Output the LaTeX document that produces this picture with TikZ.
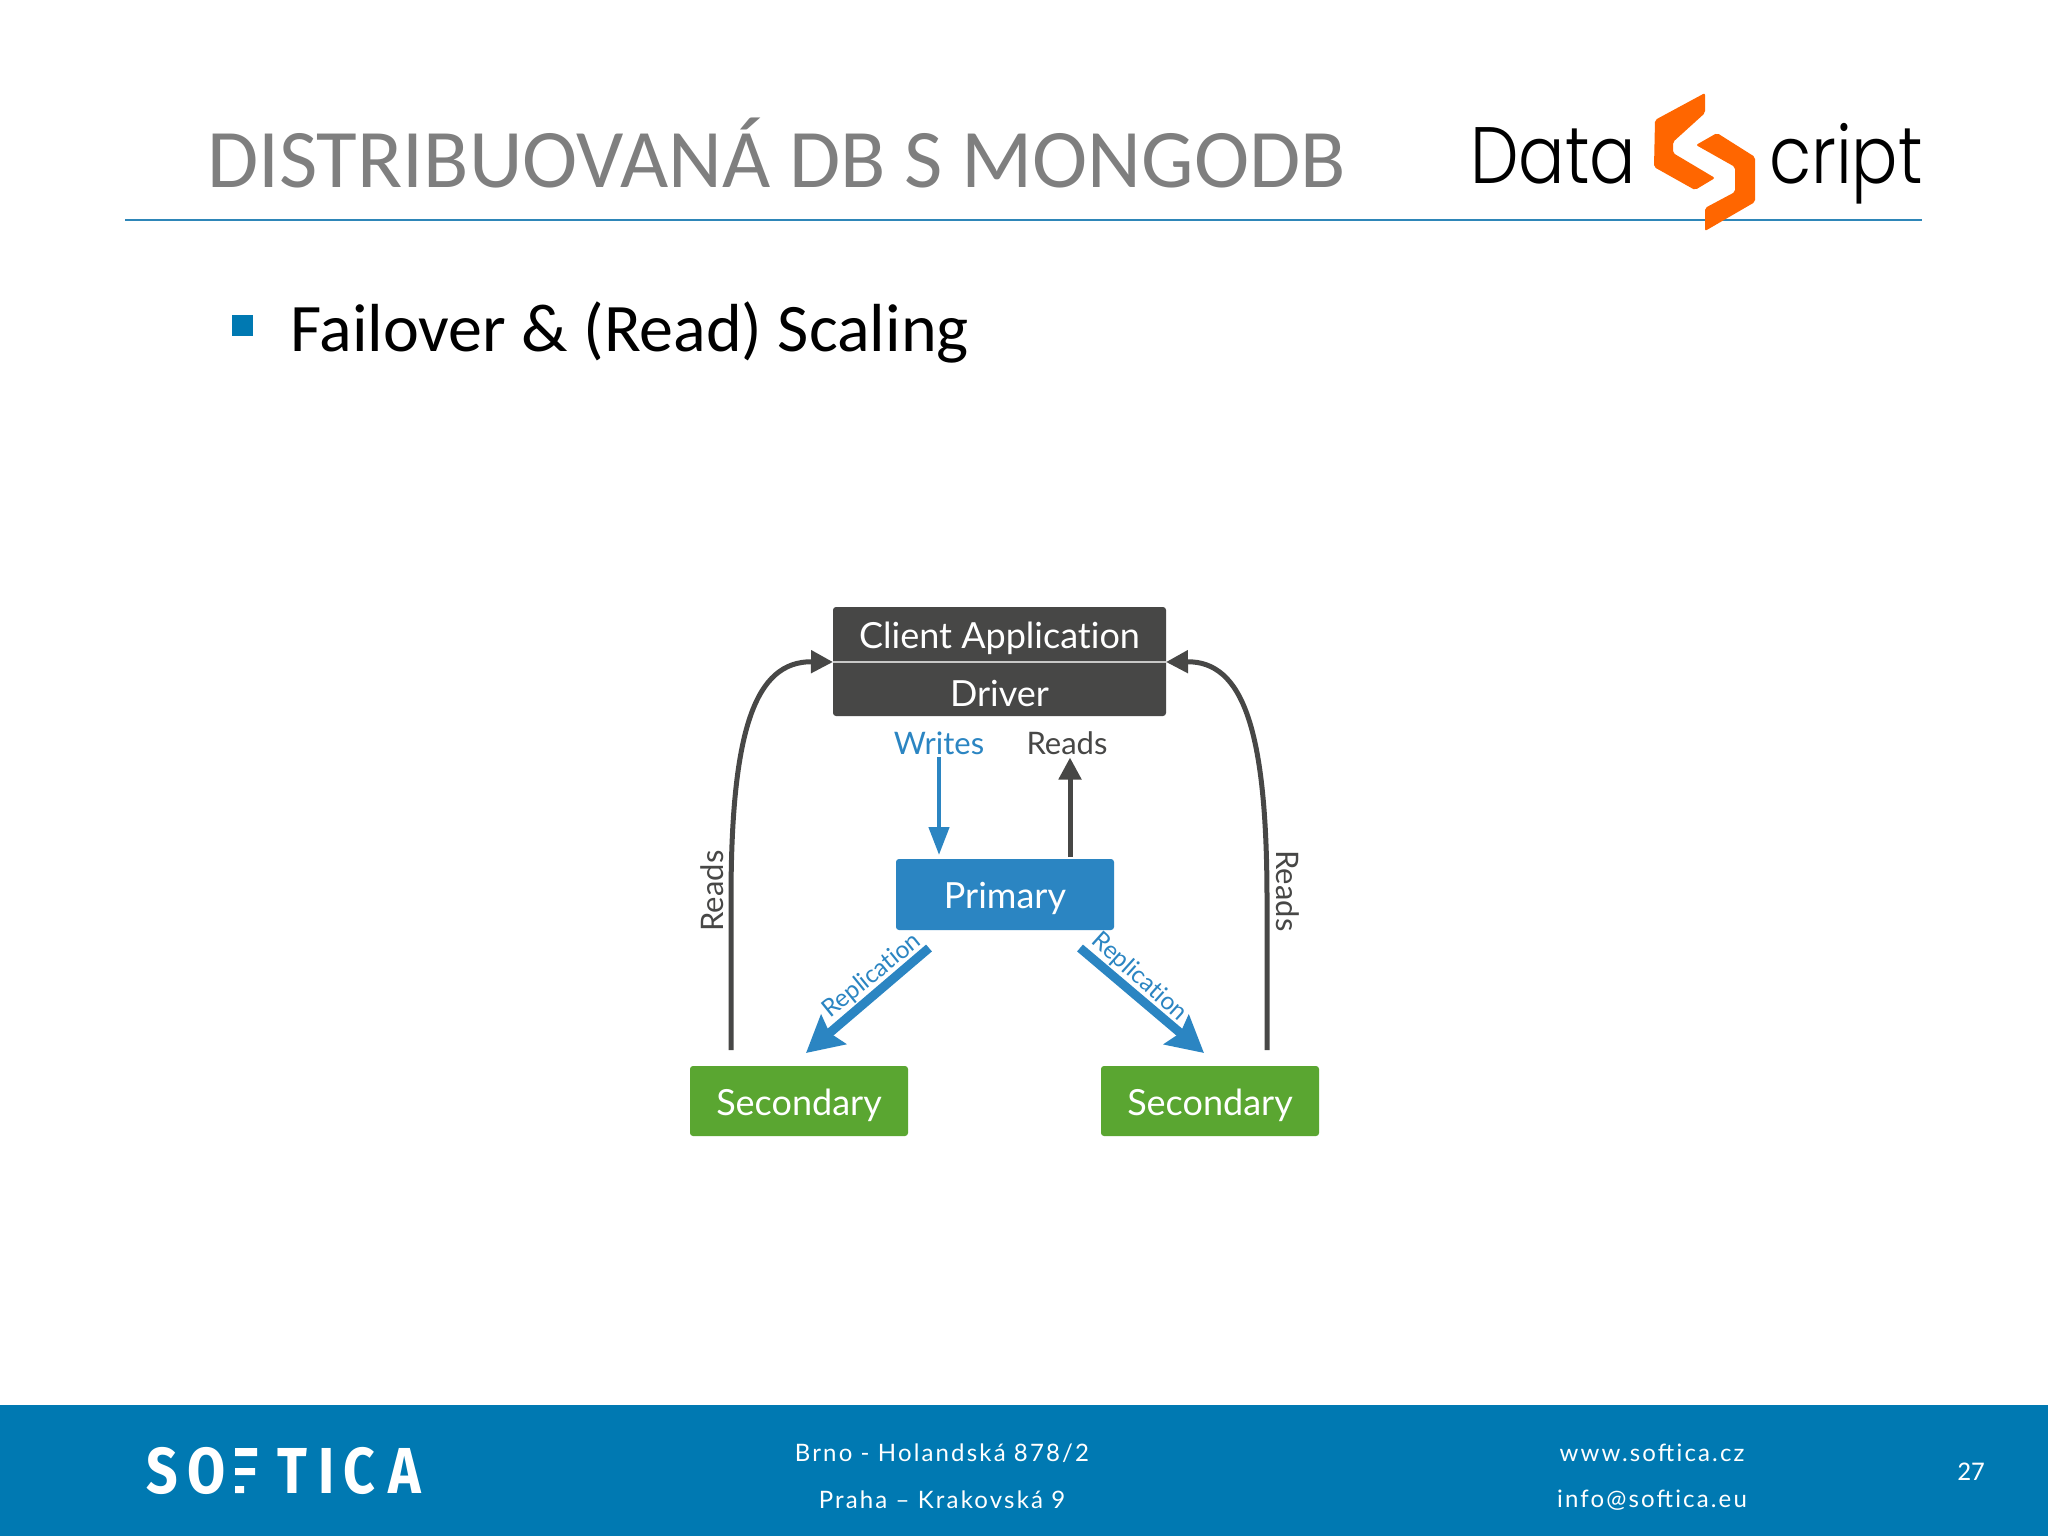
\documentclass[tikz,border=0pt]{standalone}
\usepackage{fontspec}
\usetikzlibrary{arrows.meta}
\setmainfont{Carlito}
\newfontfamily\gillfont[Ligatures=NoCommon]{Lato}
\newfontfamily\logofont[FakeStretch=0.86]{Poppins Light}
\newfontfamily\footfont[LetterSpace=9]{Lato}
\newfontfamily\softfont[FakeStretch=0.85]{Fira Sans Bold}
\newcommand{\fsz}[1]{\fontsize{#1pt}{#1pt}\selectfont}
\newcommand{\lowtxt}[1]{\raisebox{-4pt}[\height][\depth]{#1}}
\definecolor{footblue}{HTML}{0079B2}
\definecolor{rule}{HTML}{2E86B8}
\definecolor{titlegray}{HTML}{7F7F7F}
\definecolor{darkbox}{HTML}{474746}
\definecolor{mblue}{HTML}{2B85C2}
\definecolor{mgreen}{HTML}{5AA631}
\definecolor{orlogo}{HTML}{FF6600}
\tikzset{
  txt/.style={inner sep=0pt,outer sep=0pt},
  boxnode/.style={inner sep=0pt,outer sep=0pt,rounded corners=3pt,text=white,font=\gillfont\fsz{36},minimum width=218pt,minimum height=70pt},
  lab/.style={inner sep=0pt,outer sep=0pt,font=\gillfont\fsz{31}},
  replab/.style={inner sep=0pt,outer sep=0pt,font=\gillfont\fsz{24.5},text=mblue},
  darkarrow/.style={draw=darkbox,line width=5pt,-{Triangle[length=22pt,width=22pt]}},
  bluearrow/.style={draw=mblue,line width=4.5pt,-{Triangle[length=28pt,width=20pt]}},
  reparrow/.style={draw=mblue,line width=9pt,-{Stealth[length=36pt,width=38pt,inset=5pt]}},
  foot/.style={inner sep=0pt,outer sep=0pt,text=white,font=\footfont\fsz{24}},
  softl/.style={inner sep=0pt,outer sep=0pt,anchor=base west,text=white,font=\softfont\fsz{65}},
}
\begin{document}
\begin{tikzpicture}[x=1pt,y=-1pt]
\useasboundingbox (0,0) rectangle (2048,1536);
\fill[white] (0,0) rectangle (2048,1536);
% header
\node[txt,anchor=base west,text=titlegray,font=\fsz{83.3}] (title) at (207,187) {DISTRIBUOVANÁ DB S MONGODB};
\draw[rule,line width=2pt] (125,219.5) -- (1922,219.5);
\node[txt,anchor=base west,font=\logofont\fsz{80}] (logoa) at (1470,183) {Data};
\node[txt,anchor=base west,font=\logofont\fsz{80}] (logob) at (1769,183) {cript};
\fill[orlogo,rounded corners=2pt] (1705,93) -- (1655,120) -- (1654,167) -- (1695,190) -- (1715,178) -- (1673,153) -- (1673,142) -- (1705,113) -- cycle;
\fill[orlogo,rounded corners=2pt] (1696,145) -- (1717,133) -- (1755,157) -- (1755,202) -- (1705,231) -- (1705,208) -- (1735,192) -- (1735,167) -- cycle;
% bullet
\fill[footblue] (232,315) rectangle (253,336);
\node[txt,anchor=base west,font=\fsz{68}] (bullet) at (290,351) {Failover \& (Read) Scaling};
% diagram
\fill[darkbox,rounded corners=3pt] (833,607) rectangle (1166,716);
\node[boxnode,minimum width=333pt,minimum height=55pt,anchor=south west] (client) at (833,662) {\lowtxt{Client Application}};
\node[boxnode,minimum width=333pt,minimum height=54pt,anchor=north west] (driver) at (833,662) {\lowtxt{Driver}};
\draw[white!70!darkbox,line width=1.5pt] (client.south west) -- (client.south east);
\node[boxnode,fill=mblue,anchor=north west,minimum height=71pt] (primary) at (896,859) {\lowtxt{Primary}};
\node[boxnode,fill=mgreen,anchor=north west] (secl) at (690,1066) {\lowtxt{Secondary}};
\node[boxnode,fill=mgreen,anchor=north west] (secr) at (1101,1066) {\lowtxt{Secondary}};
\node[lab,text=mblue] (writes) at (939,743) {Writes};
\node[lab,text=darkbox] (reads) at (1067,743) {Reads};
\node[lab,text=darkbox,rotate=90] (readsl) at (712,891) {Reads};
\node[lab,text=darkbox,rotate=-90] (readsr) at (1288,891) {Reads};
\node[replab,rotate=39] (repl) at (872,976) {Replication};
\node[replab,rotate=-42] (repr) at (1139,977) {Replication};
\draw[bluearrow] ([yshift=-3pt]writes.south) -- ([xshift=-66pt,yshift=4pt]primary.north);
\draw[darkarrow] ([xshift=65pt,yshift=2pt]primary.north) -- ([xshift=3pt,yshift=-3pt]reads.south);
\draw[darkarrow] ([shift={(41,-16)}]secl.north west) -- ++(0,-150) .. controls (731,730) and (755,661) .. (client.south west);
\draw[darkarrow] ([shift={(-52,-16)}]secr.north east) -- ++(0,-150) .. controls (1267,730) and (1243,661) .. (client.south east);
\draw[reparrow] ([shift={(33,18)}]primary.south west) -- ([shift={(116,-13)}]secl.north west);
\draw[reparrow] ([shift={(-34,18)}]primary.south east) -- ([shift={(103,-13)}]secr.north west);
% footer
\fill[footblue] (0,1405) rectangle (2048,1536);
\node[foot] (f1) at (942,1453) {Brno - Holandská 878/2};
\node[foot] (f2) at (942,1500) {Praha – Krakovská 9};
\node[foot] (f3) at (1652,1453) {www.softica.cz};
\node[foot] (f4) at (1652,1500) {info@softica.eu};
\node[txt,text=white,font=\fsz{27}] (pg) at (1971,1472) {27};
% SOFTICA logo
\node[softl] (s1) at (146,1493) {S};
\node[softl] (s2) at (187,1493) {O};
\fill[white] (235,1448) rectangle (257,1456) (235,1468) rectangle (255,1475) (235,1486) rectangle (244,1493);
\node[softl] (s3) at (277,1493) {T};
\node[softl] (s4) at (318,1493) {I};
\node[softl] (s5) at (343,1493) {C};
\node[softl] (s6) at (388,1493) {A};
\end{tikzpicture}
\end{document}
